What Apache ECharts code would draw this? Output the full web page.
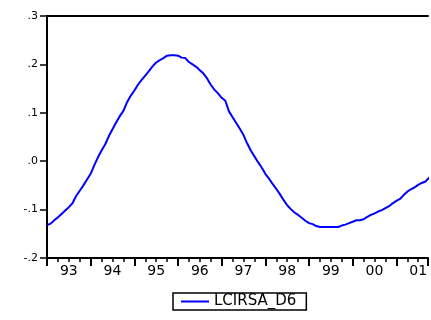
<!DOCTYPE html>
<html>
<head>
<meta charset="utf-8">
<script src="https://cdn.jsdelivr.net/npm/echarts@6/dist/echarts.min.js"></script>
<style>
  html, body { margin: 0; padding: 0; background: #fff; }
  #main { width: 431px; height: 320px; }
</style>
</head>
<body>
<div id="main"></div>
<script>
// monthly values, 1993M01 onwards
var seriesName = 'LCIRSA_D6';
var lcirsa = [
  -0.132, -0.129, -0.122, -0.116, -0.109, -0.102, -0.095, -0.087, -0.072, -0.061, -0.050, -0.038,
  -0.026, -0.008, 0.008, 0.022, 0.035, 0.052, 0.066, 0.080, 0.093, 0.104, 0.122, 0.135,
  0.146, 0.158, 0.168, 0.177, 0.186, 0.196, 0.204, 0.209, 0.213, 0.218, 0.219, 0.219,
  0.218, 0.214, 0.213, 0.205, 0.200, 0.195, 0.188, 0.181, 0.171, 0.158, 0.148, 0.140,
  0.131, 0.125, 0.103, 0.091, 0.079, 0.067, 0.054, 0.037, 0.022, 0.010, -0.002, -0.013,
  -0.026, -0.036, -0.047, -0.057, -0.068, -0.080, -0.091, -0.099, -0.106, -0.111, -0.117, -0.123,
  -0.128, -0.130, -0.134, -0.136, -0.136, -0.136, -0.136, -0.136, -0.136, -0.133, -0.131, -0.128,
  -0.125, -0.122, -0.122, -0.120, -0.115, -0.111, -0.108, -0.104, -0.101, -0.097, -0.093, -0.087,
  -0.082, -0.078, -0.070, -0.063, -0.058, -0.054, -0.049, -0.045, -0.042, -0.034, -0.028
];
var yearLabels = ['93', '94', '95', '96', '97', '98', '99', '00', '01'];
// picture is cut off before the end of 2001
var xMax = 104.7;

var points = lcirsa.map(function (v, i) { return [i, v]; });

var chart = echarts.init(document.getElementById('main'), null, { renderer: 'canvas' });

var option = {
  animation: false,
  backgroundColor: '#fff',
  grid: { left: 47, right: 0, top: 16, bottom: 62, containLabel: false },
  legend: {
    data: [{ name: seriesName, icon: 'rect' }],
    left: 173,
    top: 293,
    orient: 'horizontal',
    itemWidth: 28,
    itemHeight: 2,
    padding: [1, 10, 1, 8],
    borderColor: '#000',
    borderWidth: 1.5,
    textStyle: { fontFamily: 'DejaVu Sans', fontSize: 15, color: '#000', lineHeight: 14 }
  },
  xAxis: [
    {
      type: 'value', position: 'bottom', min: 0, max: xMax, interval: 3,
      axisLine: { show: true, onZero: false, lineStyle: { color: '#000', width: 2 } },
      axisTick: { show: true, length: 4, lineStyle: { color: '#000', width: 1.5 } },
      splitLine: { show: false },
      axisLabel: {
        margin: 6,
        fontFamily: 'DejaVu Sans', fontSize: 14, color: '#000',
        showMinLabel: true, showMaxLabel: true,
        formatter: function (v) {
          if ((v - 6) % 12 === 0) return yearLabels[(v - 6) / 12] || '';
          return '';
        }
      }
    },
    {
      type: 'value', position: 'bottom', min: 0, max: xMax, interval: 12,
      axisLine: { show: false, onZero: false },
      axisTick: { show: true, length: 8, lineStyle: { color: '#000', width: 2 } },
      axisLabel: { show: false },
      splitLine: { show: false }
    },
    {
      type: 'value', position: 'top', min: 0, max: xMax,
      axisLine: { show: true, onZero: false, lineStyle: { color: '#000', width: 2 } },
      axisTick: { show: false },
      axisLabel: { show: false },
      splitLine: { show: false }
    }
  ],
  yAxis: {
    type: 'value', min: -0.2, max: 0.3, interval: 0.1,
    axisLine: { show: true, onZero: false, lineStyle: { color: '#000', width: 2 } },
    axisTick: { show: true, inside: false, length: 7, lineStyle: { color: '#000', width: 1.5 } },
    splitLine: { show: false },
    axisLabel: {
      margin: 9,
      fontFamily: 'DejaVu Sans', fontSize: 11, color: '#000',
      formatter: function (v) {
        var s = (Math.round(v * 10) / 10).toFixed(1);
        return s.replace('0.', '.');
      }
    }
  },
  series: [{
    name: seriesName,
    type: 'line',
    xAxisIndex: 0,
    data: points,
    symbol: 'none',
    clip: false,
    lineStyle: { color: '#0000ff', width: 2 },
    itemStyle: { color: '#0000ff' }
  }]
};
chart.setOption(option);
</script>
</body>
</html>
